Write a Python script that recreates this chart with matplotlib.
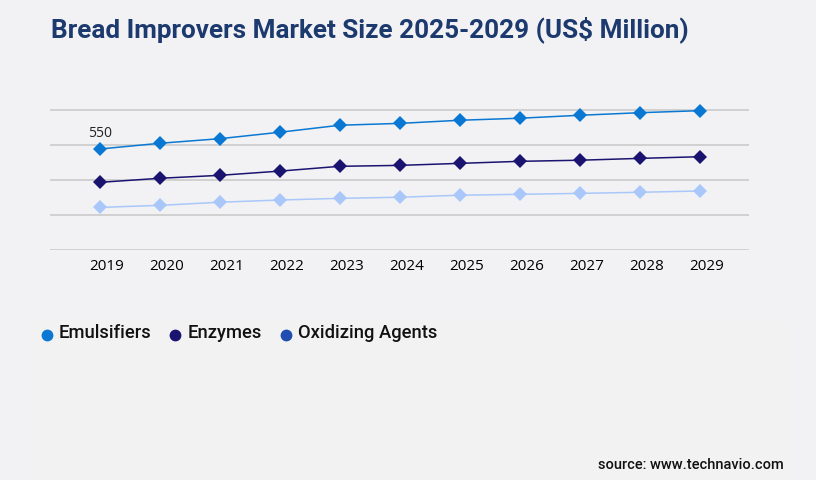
import matplotlib
matplotlib.use("Agg")
import matplotlib.pyplot as plt
import matplotlib.transforms as mtransforms
from matplotlib.patches import Rectangle
from matplotlib.lines import Line2D

years = [2019, 2020, 2021, 2022, 2023, 2024, 2025, 2026, 2027, 2028, 2029]
emulsifiers = [550, 581, 606, 641, 679, 689, 706, 717, 733, 747, 758]
enzymes = [369, 391, 407, 430, 456, 461, 472, 483, 489, 499, 508]
oxidizing = [233, 244, 261, 273, 282, 288, 299, 304, 309, 315, 322]
series_names = ["Emulsifiers", "Enzymes", "Oxidizing Agents"]
line_colors = ["#0a78d2", "#1a1470", "#a9c8f9"]
legend_colors = ["#0a78d2", "#1a1470", "#1f4eb0"]
grid_values = [0, 190, 380, 570, 760]
title = "Bread Improvers Market Size 2025-2029 (US$ Million)"
source = "source: www.technavio.com"

W, H = 816, 480
fig = plt.figure(figsize=(W / 100, H / 100), dpi=100)
fig.patch.set_facecolor("#f2f2f5")

# lighter panel behind legend/source
fig.patches.append(Rectangle((31 / W, 0), (790 - 31) / W, (480 - 322) / H,
                             transform=fig.transFigure, facecolor="#f2f2f2",
                             edgecolor="none", zorder=0))

ax_left, ax_right = 50 / W, 749.3 / W
ax_bottom, ax_top = (H - 250.3) / H, (H - 100) / H
ax = fig.add_axes([ax_left, ax_bottom, ax_right - ax_left, ax_top - ax_bottom])
ax.set_facecolor("none")

for vals, c in zip([emulsifiers, enzymes, oxidizing], line_colors):
    ax.plot(years, vals, color=c, lw=1.1, marker="D", markersize=7,
            markeredgewidth=0, zorder=3)

ax.annotate(str(emulsifiers[0]), (years[0], emulsifiers[0]), xytext=(0, 11),
            textcoords="offset points", ha="center", va="center",
            fontsize=10, family="Open Sans", color="#222222")

ax.set_xlim(2019 - 50 / 60, 2029 + 49.3 / 60)
ax.set_ylim(0, 150.3 * 190 / 35)
ax.set_yticks(grid_values)
ax.set_yticklabels([])
ax.yaxis.grid(True, color="#c8c8c8", lw=1.1)
ax.set_axisbelow(True)
ax.tick_params(axis="y", length=0)
ax.set_xticks(years)
ax.set_xticklabels([str(y) for y in years], fontsize=11, family="Open Sans",
                   color="#000000")
ax.tick_params(axis="x", length=0, pad=6.5)
offset = mtransforms.ScaledTranslation(6.5 / 100, 0, fig.dpi_scale_trans)
for lbl in ax.get_xticklabels():
    lbl.set_transform(lbl.get_transform() + offset)
for s in ax.spines.values():
    s.set_visible(False)

fig.text(51 / W, 1 - 30 / H, title, fontsize=18.8, fontweight="bold",
         family="Roboto", color="#1c3a6e", ha="left", va="center")

# legend
marker_x = [46.7, 175, 286]
text_x = [58.3, 187.7, 298.3]
for name, c, mx, tx in zip(series_names, legend_colors, marker_x, text_x):
    fig.lines.append(Line2D([mx / W], [1 - 335 / H], marker="o", markersize=8.5,
                            color=c, markeredgewidth=0, transform=fig.transFigure))
    fig.text(tx / W, 1 - 333 / H, name, fontsize=13.2, fontweight="medium",
             family="Roboto", color="#111111", ha="left", va="center")

fig.text(784 / W, 1 - 465 / H, source, fontsize=10.5, fontweight="medium",
         family="Roboto", color="#111111", ha="right", va="center")

fig.savefig("out.png", dpi=100, facecolor=fig.get_facecolor())
